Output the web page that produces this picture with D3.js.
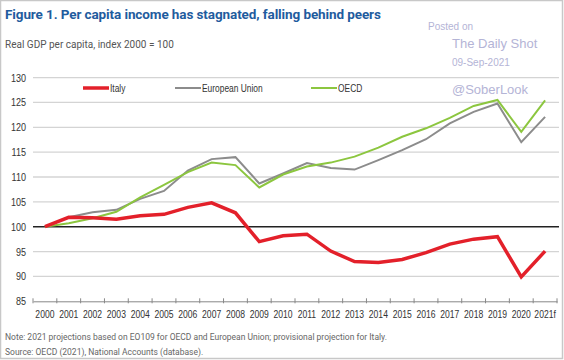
<!DOCTYPE html>
<html><head><meta charset="utf-8">
<script src="https://cdn.jsdelivr.net/npm/d3@7"></script>
<style>
html,body{margin:0;padding:0;background:#fff;}
svg{display:block;font-family:"Liberation Sans",Arial,sans-serif;}
</style></head>
<body>
<svg id="c" width="564" height="360"></svg>
<script>
const years = ["2000","2001","2002","2003","2004","2005","2006","2007","2008","2009","2010","2011","2012","2013","2014","2015","2016","2017","2018","2019","2020","2021f"];
const italy = [100,101.9,101.8,101.5,102.2,102.5,103.9,104.8,102.8,97.0,98.2,98.5,95.1,93.0,92.8,93.4,94.8,96.5,97.5,98.0,89.9,95.1];
const eu    = [100,101.9,102.9,103.4,105.6,107.2,111.3,113.6,114.0,108.7,110.7,112.8,111.8,111.5,113.4,115.4,117.6,120.8,123.1,124.8,117.0,122.1];
const oecd  = [100,100.7,101.7,103.0,105.9,108.4,111.0,112.9,112.4,107.9,110.5,112.1,112.9,114.1,115.9,118.1,119.8,121.9,124.3,125.5,119.1,125.4];
const yTicks = [85,90,95,100,105,110,115,120,125,130];
const seriesNames = ["Italy","European Union","OECD"];
const seriesColors = ["#e3202a","#8c8c8c","#8cc63f"];

const svg = d3.select("#c");
function narrow(sel, k){
  sel.each(function(){
    const w = this.getComputedTextLength();
    d3.select(this).attr("textLength", w*k).attr("lengthAdjust","spacingAndGlyphs");
  });
}
svg.append("rect").attr("x",0.5).attr("y",0.5).attr("width",562).attr("height",358)
  .attr("fill","none").attr("stroke","#c8c8c8").attr("stroke-width",1.5);

const x = d3.scaleBand().domain(years).range([33,557]);
const y = d3.scaleLinear().domain([85,130]).range([301.3,77.6]);

svg.append("g").selectAll("line").data(yTicks.filter(v=>v!==85 && v!==100)).join("line")
  .attr("x1",33).attr("x2",559).attr("y1",d=>y(d)).attr("y2",d=>y(d))
  .attr("stroke","#d4d4d4").attr("stroke-width",1.3);

const yl = svg.append("g").selectAll("text").data(yTicks).join("text")
  .attr("x",26).attr("y",d=>y(d)+4).attr("text-anchor","end")
  .attr("font-size",11).attr("fill","#333").text(d=>d);
narrow(yl,0.82);

const xAxis = svg.append("g").attr("transform",`translate(0,${y(85)})`)
  .call(d3.axisBottom(x).tickSize(0).tickPadding(9));
xAxis.select(".domain").attr("stroke","#888").attr("stroke-width",1);
xAxis.selectAll("text").attr("font-size",11).attr("fill","#333").attr("font-family",null);
narrow(xAxis.selectAll("text"),0.78);
const bounds = years.map(d=>x(d)).concat([x(years[years.length-1])+x.bandwidth()]);
svg.append("g").selectAll("line").data(bounds).join("line")
  .attr("x1",d=>d).attr("x2",d=>d).attr("y1",y(85)-3).attr("y2",y(85)+2)
  .attr("stroke","#888").attr("stroke-width",1);

svg.append("line").attr("x1",33).attr("x2",559).attr("y1",y(100)).attr("y2",y(100))
  .attr("stroke","#222").attr("stroke-width",1.5);

const line = d3.line().x((d,i)=>x(years[i])+x.bandwidth()/2).y(d=>y(d));
svg.append("path").datum(eu).attr("d",line).attr("fill","none").attr("stroke",seriesColors[1]).attr("stroke-width",2);
svg.append("path").datum(oecd).attr("d",line).attr("fill","none").attr("stroke",seriesColors[2]).attr("stroke-width",2);
svg.append("path").datum(italy).attr("d",line).attr("fill","none").attr("stroke",seriesColors[0]).attr("stroke-width",3.5);

const legX = [83,175,311];
const legW = [3.5,2,2];
seriesNames.forEach((n,i)=>{
  svg.append("line").attr("x1",legX[i]).attr("x2",legX[i]+26).attr("y1",88).attr("y2",88)
    .attr("stroke",seriesColors[i]).attr("stroke-width",legW[i]);
  const t = svg.append("text").attr("x",legX[i]+27).attr("y",91.5).attr("font-size",10.5).attr("fill","#333")
    .text(n);
  narrow(t,0.8);
});

svg.append("text").attr("x",5).attr("y",19).attr("font-size",13.5).attr("font-weight","bold")
  .attr("fill","#1f5c9e").attr("font-family","Roboto, Arial, sans-serif").attr("letter-spacing","-0.1")
  .text("Figure 1. Per capita income has stagnated, falling behind peers");
svg.append("text").attr("x",5).attr("y",48).attr("font-size",10).attr("fill","#555")
  .attr("font-family","Roboto, Arial, sans-serif")
  .text("Real GDP per capita, index 2000 = 100");

const wm = "#b4b4d6";
svg.append("text").attr("x",428).attr("y",30).attr("font-size",10).attr("fill",wm).text("Posted on");
svg.append("text").attr("x",452).attr("y",48).attr("font-size",13).attr("fill",wm).text("The Daily Shot");
svg.append("text").attr("x",452).attr("y",66).attr("font-size",10).attr("fill",wm).text("09-Sep-2021");
svg.append("text").attr("x",452).attr("y",94).attr("font-size",13).attr("fill",wm).text("@SoberLook");

svg.append("text").attr("x",5).attr("y",340).attr("font-size",8.5).attr("fill","#666")
  .attr("font-family","Roboto, Arial, sans-serif")
  .text("Note: 2021 projections based on EO109 for OECD and European Union; provisional projection for Italy.");
svg.append("text").attr("x",5).attr("y",355).attr("font-size",8.5).attr("fill","#666")
  .attr("font-family","Roboto, Arial, sans-serif")
  .text("Source: OECD (2021), National Accounts (database).");
</script>
</body></html>
